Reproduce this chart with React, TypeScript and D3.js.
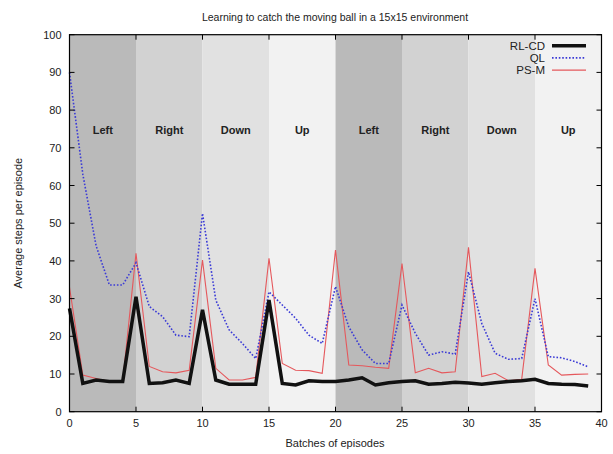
import React from "react";
import * as d3 from "d3";

const TITLE = "Learning to catch the moving ball in a 15x15 environment";
const X_LABEL = "Batches of episodes";
const Y_LABEL = "Average steps per episode";

const batches: number[] = Array.from({ length: 40 }, (_, i) => i);

const rlcd: number[] = [
  27.4, 7.5, 8.4, 8, 8, 30.5, 7.5, 7.7, 8.4, 7.5,
  27, 8.4, 7.3, 7.3, 7.3, 29.6, 7.5, 7.1, 8.2, 8,
  8, 8.4, 9, 7.1, 7.7, 8, 8.2, 7.3, 7.5, 7.8,
  7.6, 7.3, 7.7, 8, 8.2, 8.6, 7.5, 7.3, 7.2, 6.8,
];
const ql: number[] = [
  90, 63, 44, 33.6, 33.6, 39.5, 27.9, 25.2, 20.3, 19.9,
  52.6, 29.6, 21.7, 18.1, 14.1, 31.8, 28.3, 24.8, 20.3, 18.1,
  33.2, 22.5, 16.4, 12.8, 12.8, 28.3, 20.8, 15, 15.9, 15.3,
  37.1, 23.4, 15.5, 13.9, 14.1, 30, 14.6, 14.3, 13.3, 11.9,
];
const psm: number[] = [
  33, 9.7, 8.8, 8, 8, 42, 12, 10.6, 10.3, 11,
  40.2, 11.5, 8.4, 8.4, 9.1, 40.7, 12.8, 11, 10.9, 10.2,
  42.9, 12.4, 12.2, 11.8, 11.5, 39.3, 10.3, 11.5, 10.3, 10.6,
  43.6, 9.3, 10.2, 8.2, 8.6, 38, 12.4, 9.7, 9.9, 10,
];

const phaseNames: string[] = ["Left", "Right", "Down", "Up", "Left", "Right", "Down", "Up"];
const phaseStarts: number[] = [0, 5, 10, 15, 20, 25, 30, 35];
const phaseFills: string[] = ["#bababa", "#d2d2d2", "#e1e1e1", "#f2f2f2"];

const xTicks: number[] = [0, 5, 10, 15, 20, 25, 30, 35, 40];
const yTicks: number[] = [0, 10, 20, 30, 40, 50, 60, 70, 80, 90, 100];

const W = 613;
const H = 454;
const L = 69.5;
const R = 601.5;
const T = 34.7;
const B = 411.7;

export default function App() {
  const x = d3.scaleLinear().domain([0, 40]).range([L, R]);
  const y = d3.scaleLinear().domain([0, 100]).range([B, T]);
  const line = d3
    .line<number>()
    .x((_, i) => x(batches[i]))
    .y((d) => y(d));

  const font = "'Liberation Sans', Arial, sans-serif";
  const series = [
    { name: "RL-CD", data: rlcd, color: "#111111", width: 3.5, dash: undefined as string | undefined },
    { name: "QL", data: ql, color: "#3b3bd6", width: 1.6, dash: "1.6,1.8" },
    { name: "PS-M", data: psm, color: "#e5585c", width: 1.1, dash: undefined as string | undefined },
  ];

  return (
    <svg
      width={W}
      height={H}
      style={{ position: "absolute", left: 0, top: 0, background: "#fff" }}
      fontFamily={font}
    >
      {phaseStarts.map((s, i) => (
        <rect
          key={"b" + i}
          x={x(s)}
          y={T}
          width={x(s + 5) - x(s)}
          height={B - T}
          fill={phaseFills[i % 4]}
        />
      ))}
      {phaseStarts.map((s, i) => (
        <text
          key={"p" + i}
          x={x(s + 2.5)}
          y={134}
          textAnchor="middle"
          fontSize={11}
          fontWeight="bold"
          fill="#222"
        >
          {phaseNames[i]}
        </text>
      ))}

      {/* series */}
      {series
        .slice()
        .reverse()
        .map((s) => (
          <path
            key={s.name}
            d={line(s.data) || ""}
            fill="none"
            stroke={s.color}
            strokeWidth={s.width}
            strokeDasharray={s.dash}
            strokeLinejoin="miter"
          />
        ))}

      {/* border */}
      <rect x={L} y={T} width={R - L} height={B - T} fill="none" stroke="#000" strokeWidth={1.2} />

      {/* ticks */}
      {xTicks.map((t) => (
        <g key={"xt" + t}>
          <line x1={x(t)} x2={x(t)} y1={B} y2={B - 5} stroke="#000" />
          <line x1={x(t)} x2={x(t)} y1={T} y2={T + 5} stroke="#000" />
          <text x={x(t)} y={B + 15} textAnchor="middle" fontSize={11} fill="#222">
            {t}
          </text>
        </g>
      ))}
      {yTicks.map((t) => (
        <g key={"yt" + t}>
          <line x1={L} x2={L + 5} y1={y(t)} y2={y(t)} stroke="#000" />
          <line x1={R} x2={R - 5} y1={y(t)} y2={y(t)} stroke="#000" />
          <text x={L - 8} y={y(t) + 4} textAnchor="end" fontSize={11} fill="#222">
            {t}
          </text>
        </g>
      ))}

      {/* titles */}
      <text x={335} y={21} textAnchor="middle" fontSize={10.5} fill="#222">
        {TITLE}
      </text>
      <text x={335} y={447} textAnchor="middle" fontSize={11} fill="#222">
        {X_LABEL}
      </text>
      <text
        transform={`translate(22,${(T + B) / 2}) rotate(-90)`}
        textAnchor="middle"
        fontSize={11}
        fill="#222"
      >
        {Y_LABEL}
      </text>

      {/* legend */}
      {series.map((s, i) => (
        <g key={"lg" + s.name}>
          <text x={545} y={49.5 + i * 12.2} textAnchor="end" fontSize={11.5} fill="#222">
            {s.name}
          </text>
          <line
            x1={552}
            x2={586}
            y1={45.7 + i * 12.2}
            y2={45.7 + i * 12.2}
            stroke={s.color}
            strokeWidth={s.width}
            strokeDasharray={s.dash}
          />
        </g>
      ))}
    </svg>
  );
}
